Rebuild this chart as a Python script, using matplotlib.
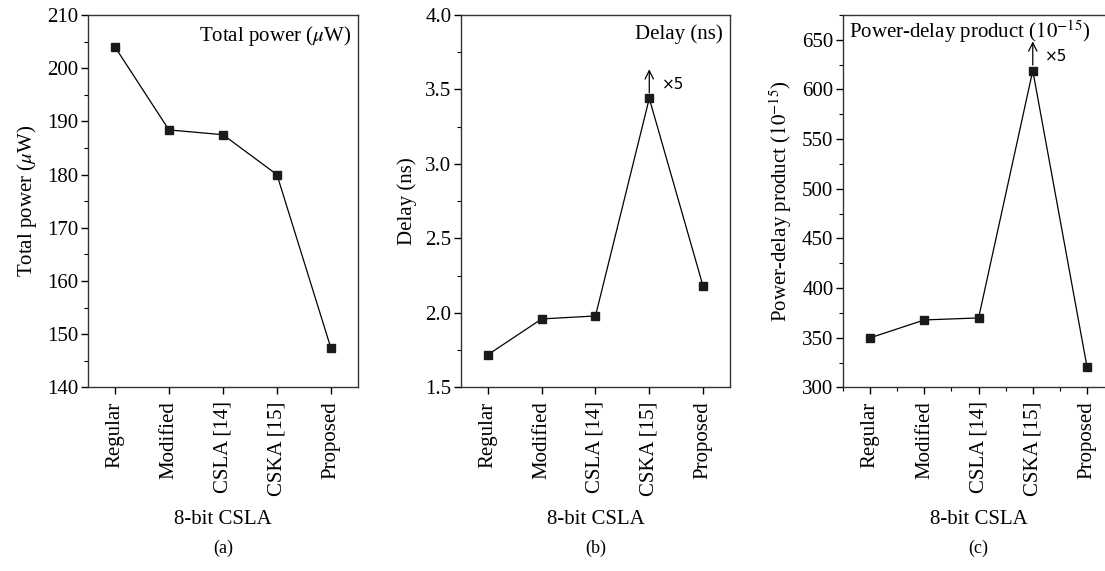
import matplotlib
matplotlib.use("Agg")
from matplotlib import pyplot as plt
from matplotlib.ticker import MultipleLocator, FixedLocator

plt.rcParams['font.family'] = ['Liberation Serif', 'DejaVu Serif']
plt.rcParams['mathtext.fontset'] = 'stix'
plt.rcParams['font.size'] = 15

categories = ["Regular", "Modified", "CSLA [14]", "CSKA [15]", "Proposed"]
total_power = [204.0, 188.4, 187.5, 180.0, 147.4]
delay = [1.72, 1.96, 1.98, 3.44, 2.18]
pdp = [350, 368, 370, 619, 321]

fig = plt.figure(figsize=(11.05, 5.71), dpi=100)

bottom, height = 0.3214, 0.6524
axes_info = [
    # left, width, values, ylim, major, minor, inner title, ylabel, panel label, x5 marker
    (0.0796, 0.2443, total_power, (140, 210), 10, 5, r"Total power ($\mu$W)", r"Total power ($\mu$W)", "(a)", False),
    (0.4172, 0.2434, delay, (1.5, 4.0), 0.5, 0.25, "Delay (ns)", "Delay (ns)", "(b)", True),
    (0.7630, 0.2452, pdp, (300, 675), 50, 25, r"Power-delay product ($10^{-15}$)",
     r"Power-delay product ($10^{-15}$)", "(c)", True),
]

x = list(range(len(categories)))
for i, (left, width, vals, ylim, major, minor, inner, ylab, plabel, x5) in enumerate(axes_info):
    ax = fig.add_axes([left, bottom, width, height])
    ax.plot(x, vals, color='black', lw=0.9, marker='s', markersize=5.5,
            markerfacecolor='#1a1a1a', markeredgecolor='#1a1a1a')
    ax.set_xlim(-0.5, 4.5)
    ax.set_ylim(*ylim)
    ax.set_xticks(x)
    ax.set_xticklabels(categories, rotation=90)
    ax.yaxis.set_major_locator(MultipleLocator(major))
    ax.yaxis.set_minor_locator(MultipleLocator(minor))
    if i == 2:
        ax.xaxis.set_minor_locator(FixedLocator([-0.5, 0.5, 1.5, 2.5, 3.5, 4.5]))
    if i == 1:
        ax.yaxis.set_major_formatter(plt.FuncFormatter(lambda v, _: f"{v:.1f}"))
    ax.tick_params(direction='out', length=5, width=1, top=False, right=False)
    ax.tick_params(which='minor', direction='out', length=3, width=0.8)
    ax.tick_params(axis='y', pad=2)
    ax.tick_params(axis='x', pad=5)
    for s in ax.spines.values():
        s.set_linewidth(1.0)
        s.set_color('#333333')
    ax.set_ylabel(ylab, labelpad=6)
    ax.set_xlabel("8-bit CSLA", labelpad=10)
    if i == 2:
        ax.text(0.02, 0.99, inner, transform=ax.transAxes, ha='left', va='top')
    else:
        ax.text(0.975, 0.975, inner, transform=ax.transAxes, ha='right', va='top')
    if x5:
        ax.annotate('', xy=(3, vals[3]), xytext=(0, 21), textcoords='offset points',
                    xycoords='data', arrowprops=dict(arrowstyle='<-', lw=0.9, color='black',
                                                     shrinkA=0, shrinkB=4))
        ax.annotate('×5', xy=(3, vals[3]), xytext=(9, 10), textcoords='offset points',
                    ha='left', va='center', family='DejaVu Sans', fontsize=11)
    fig.text(left + (min(width, 0.2443)) / 2, 0.04, plabel, ha='center', va='center', fontsize=13)

fig.savefig("out.png", dpi=100)
